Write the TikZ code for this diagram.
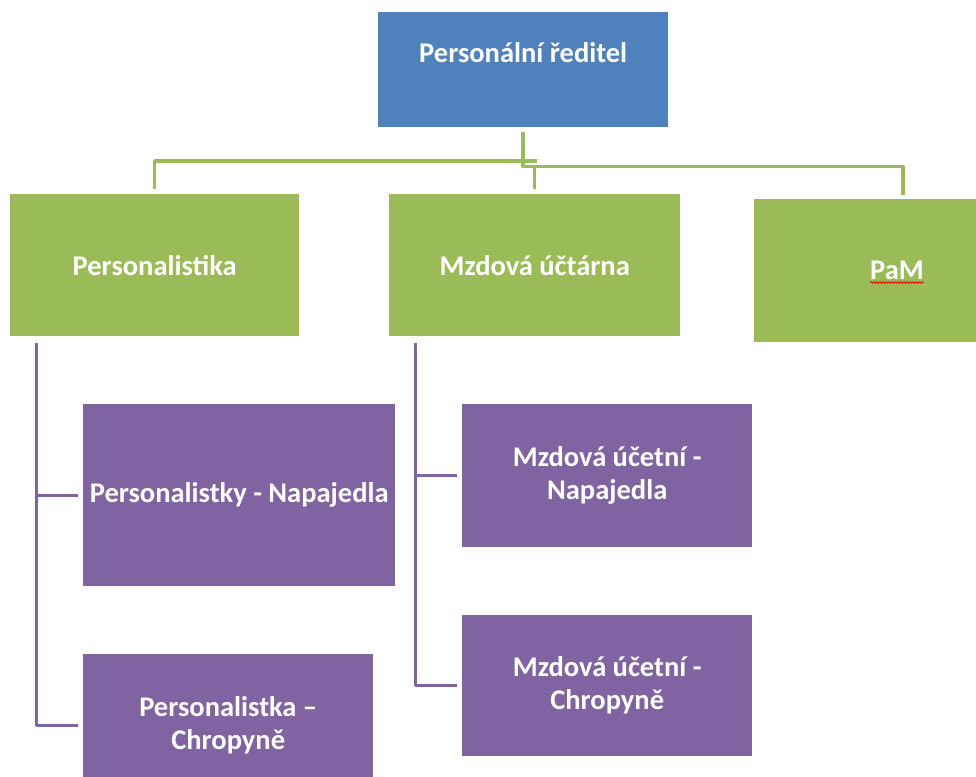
\documentclass[tikz,border=0pt]{standalone}
\usepackage{fontspec}
\setmainfont{Carlito}
\usetikzlibrary{calc,decorations.pathmorphing}
\definecolor{cblue}{HTML}{4F81BD}
\definecolor{cgreen}{HTML}{9BBB59}
\definecolor{cpurple}{HTML}{8064A2}
\begin{document}
\begin{tikzpicture}[x=1pt,y=-1pt,
  boxbase/.style={draw=none, inner sep=0pt, anchor=north west, align=center,
    text=white, font=\fontsize{28.5}{33}\selectfont\bfseries},
  bluebox/.style={boxbase, fill=cblue},
  greenbox/.style={boxbase, fill=cgreen},
  purplebox/.style={boxbase, fill=cpurple},
  lbl/.style={text=white, font=\fontsize{28.5}{33}\selectfont\bfseries, inner sep=0pt, align=center},
  gline/.style={draw=cgreen, line width=3.5pt, line join=round},
  pline/.style={draw=cpurple, line width=3pt, line join=round}]
\useasboundingbox (0,0) rectangle (976,776);
\clip (0,0) rectangle (976,776);
% boxes
\node[bluebox, minimum width=290pt, minimum height=115pt] (top) at (378,12) {};
\node[lbl] (toplbl) at ($(top.north)+(0,41)$) {Personální ředitel};
\node[greenbox, minimum width=289pt, minimum height=142pt] (pers) at (10,194) {Personalistika};
\node[greenbox, minimum width=291pt, minimum height=142pt] (mzda) at (389,194) {Mzdová účtárna};
\node[greenbox, minimum width=240pt, minimum height=143pt] (pam) at (754,199) {};
\node[lbl] (pamlbl) at ($(pam.north west)+(143,71)$) {PaM};
\node[purplebox, minimum width=312pt, minimum height=182pt] (pn) at (83,404) {Personalistky - Napajedla};
\node[purplebox, minimum width=290pt, minimum height=142pt] (pc) at (83,654) {Personalistka –\\Chropyně};
\node[purplebox, minimum width=290pt, minimum height=143pt] (mn) at (462,404) {Mzdová účetní -\\Napajedla};
\node[purplebox, minimum width=290pt, minimum height=141pt] (mc) at (462,615) {Mzdová účetní -\\Chropyně};
% spell-check underline
\draw[red, line width=0.8pt, decorate, decoration={snake, amplitude=0.9pt, segment length=3pt}]
  ($(pamlbl.south west)+(0,3)$) -- ($(pamlbl.south east)+(0,3)$);
% green connectors
\draw[gline] ($(pers.north)+(0,-5)$) |- ($(mzda.north)+(2,-33)$);
\draw[gline] ($(top.south)+(0,5)$) -- ($(top.south)+(0,39)$) -| ($(pam.north west)+(149,-4)$);
\draw[gline] ($(mzda.north)+(0,-5)$) -- ($(mzda.north)+(0,-28)$);
% purple connectors
\coordinate (lv) at ($(pers.south west)+(26,7)$);
\coordinate (mv) at ($(mzda.south west)+(26,7)$);
\draw[pline] (lv) |- ($(pc.west)+(-5,0)$);
\draw[pline] (lv |- pn.west) -- ($(pn.west)+(-5,0)$);
\draw[pline] (mv) |- ($(mc.west)+(-5,0)$);
\draw[pline] (mv |- mn.west) -- ($(mn.west)+(-5,0)$);
\end{tikzpicture}
\end{document}
